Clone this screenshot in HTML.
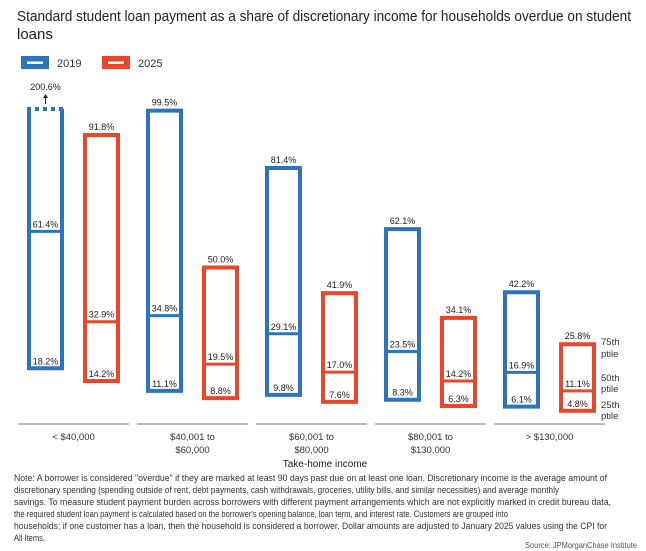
<!DOCTYPE html>
<html><head><meta charset="utf-8"><style>
body{margin:0;background:#fff;}
svg{display:block;font-family:"Liberation Sans",sans-serif;}
</style></head><body>
<svg id="chart" width="646" height="551" xmlns="http://www.w3.org/2000/svg">
<text x="17" y="21" font-size="15" fill="#222" textLength="614" lengthAdjust="spacingAndGlyphs">Standard student loan payment as a share of discretionary income for households overdue on student</text>
<text x="17" y="39" font-size="15" fill="#222">loans</text>
<g>
<rect x="21" y="56" width="28" height="13" fill="#2e74bd"/>
<rect x="27" y="61.5" width="16" height="2.5" fill="#fff"/>
<text x="57" y="67" font-size="11" fill="#333">2019</text>
<rect x="102" y="56" width="28" height="13" fill="#e8472b"/>
<rect x="108" y="61.5" width="16" height="2.5" fill="#fff"/>
<text x="138" y="67" font-size="11" fill="#333">2025</text>
</g>
<g id="plot"></g>
<text x="325" y="467" font-size="10" text-anchor="middle" fill="#222">Take-home income</text>
<g font-size="9.5" fill="#333">
<text x="601" y="345">75th</text><text x="601" y="357">ptile</text>
<text x="601" y="381">50th</text><text x="601" y="392">ptile</text>
<text x="601" y="408">25th</text><text x="601" y="419">ptile</text>
</g>
<g font-size="9.6" fill="#333">
<text x="14" y="481" textLength="593" lengthAdjust="spacingAndGlyphs">Note: A borrower is considered "overdue" if they are marked at least 90 days past due on at least one loan. Discretionary income is the average amount of</text>
<text x="14" y="493" textLength="545" lengthAdjust="spacingAndGlyphs">discretionary spending (spending outside of rent, debt payments, cash withdrawals, groceries, utility bills, and similar necessities) and average monthly</text>
<text x="14" y="505" textLength="597" lengthAdjust="spacingAndGlyphs">savings. To measure student payment burden across borrowers with different payment arrangements which are not explicitly marked in credit bureau data,</text>
<text x="14" y="517" textLength="494" lengthAdjust="spacingAndGlyphs">the required student loan payment is calculated based on the borrower's opening balance, loan term, and interest rate. Customers are grouped into</text>
<text x="14" y="529" textLength="593" lengthAdjust="spacingAndGlyphs">households; if one customer has a loan, then the household is considered a borrower. Dollar amounts are adjusted to January 2025 values using the CPI for</text>
<text x="14" y="541" textLength="31" lengthAdjust="spacingAndGlyphs">All Items.</text>
</g>
<text x="637" y="548" font-size="8" text-anchor="end" fill="#555" textLength="112" lengthAdjust="spacingAndGlyphs">Source: JPMorganChase Institute</text>
</svg>
<script>
const categories = ["< $40,000", "$40,001 to|$60,000", "$60,001 to|$80,000", "$80,001 to|$130,000", "> $130,000"];
const p25_2019 = [18.2, 11.1, 9.8, 8.3, 6.1];
const p50_2019 = [61.4, 34.8, 29.1, 23.5, 16.9];
const p75_2019 = [200.6, 99.5, 81.4, 62.1, 42.2];
const p25_2025 = [14.2, 8.8, 7.6, 6.3, 4.8];
const p50_2025 = [32.9, 19.5, 17.0, 14.2, 11.1];
const p75_2025 = [91.8, 50.0, 41.9, 34.1, 25.8];
const yMaxShown = 100;

const NS = "http://www.w3.org/2000/svg";
const plot = document.getElementById("plot");
function y(v){ return 426 - 3.17 * v; }
function gx(i){ return 29 + 119 * i; }
function mk(tag, attrs, parent){
  const e = document.createElementNS(NS, tag);
  for (const k in attrs) e.setAttribute(k, attrs[k]);
  (parent || plot).appendChild(e);
  return e;
}
function fmt(v){ return v.toFixed(1) + "%"; }
function box(i, off, p25, p50, p75, color, yr){
  const g = mk("g", {});
  
  
  const x = gx(i) + off, w = 33;
  const capped = p75 > yMaxShown;
  const top = y(capped ? yMaxShown : p75), bot = y(p25), mid = y(p50);
  mk("line", {x1:x, y1:top, x2:x, y2:bot, stroke:color, "stroke-width":4}, g);
  mk("line", {x1:x+w, y1:top, x2:x+w, y2:bot, stroke:color, "stroke-width":4}, g);
  mk("line", {x1:x-2, y1:bot, x2:x+w+2, y2:bot, stroke:color, "stroke-width":4}, g);
  mk("line", {x1:x-2, y1:top, x2:x+w+2, y2:top, stroke:color, "stroke-width":4, "stroke-dasharray": capped ? "4,4" : "none"}, g);
  mk("line", {x1:x, y1:mid, x2:x+w, y2:mid, stroke:color, "stroke-width":3}, g);
  const cx = x + w/2;
  if (capped) {
    mk("line", {x1:cx, y1:top-5, x2:cx, y2:top-12, stroke:"#222", "stroke-width":1}, g);
    mk("path", {d:`M${cx-2.5},${top-11} L${cx},${top-15} L${cx+2.5},${top-11} Z`, fill:"#222"}, g);
    const t = mk("text", {x:cx, y:top-19, "font-size":9, "text-anchor":"middle", fill:"#222"}, g);
    t.textContent = fmt(p75);
  } else {
    const t = mk("text", {x:cx, y:top-5, "font-size":9, "text-anchor":"middle", fill:"#222"}, g);
    t.textContent = fmt(p75);
  }
  const t2 = mk("text", {x:cx, y:mid-4, "font-size":9, "text-anchor":"middle", fill:"#222"}, g);
  t2.textContent = fmt(p50);
  const t3 = mk("text", {x:cx, y:bot-4, "font-size":9, "text-anchor":"middle", fill:"#222"}, g);
  t3.textContent = fmt(p25);
}
categories.forEach((c, i) => {
  box(i, 0, p25_2019[i], p50_2019[i], p75_2019[i], "#2e74bd", "2019");
  box(i, 56, p25_2025[i], p50_2025[i], p75_2025[i], "#e8472b", "2025");
  const ln = mk("line", {x1:18 + 119*i, y1:424, x2:129 + 119*i, y2:424, stroke:"#777", "stroke-width":1});
  
  
  const parts = c.split("|");
  parts.forEach((p, k) => {
    const t = mk("text", {x:73.5 + 119*i, y:440 + 13*k, "font-size":9.5, "text-anchor":"middle", fill:"#333"});
    
    
    t.textContent = p;
  });
});
</script>
</body></html>
